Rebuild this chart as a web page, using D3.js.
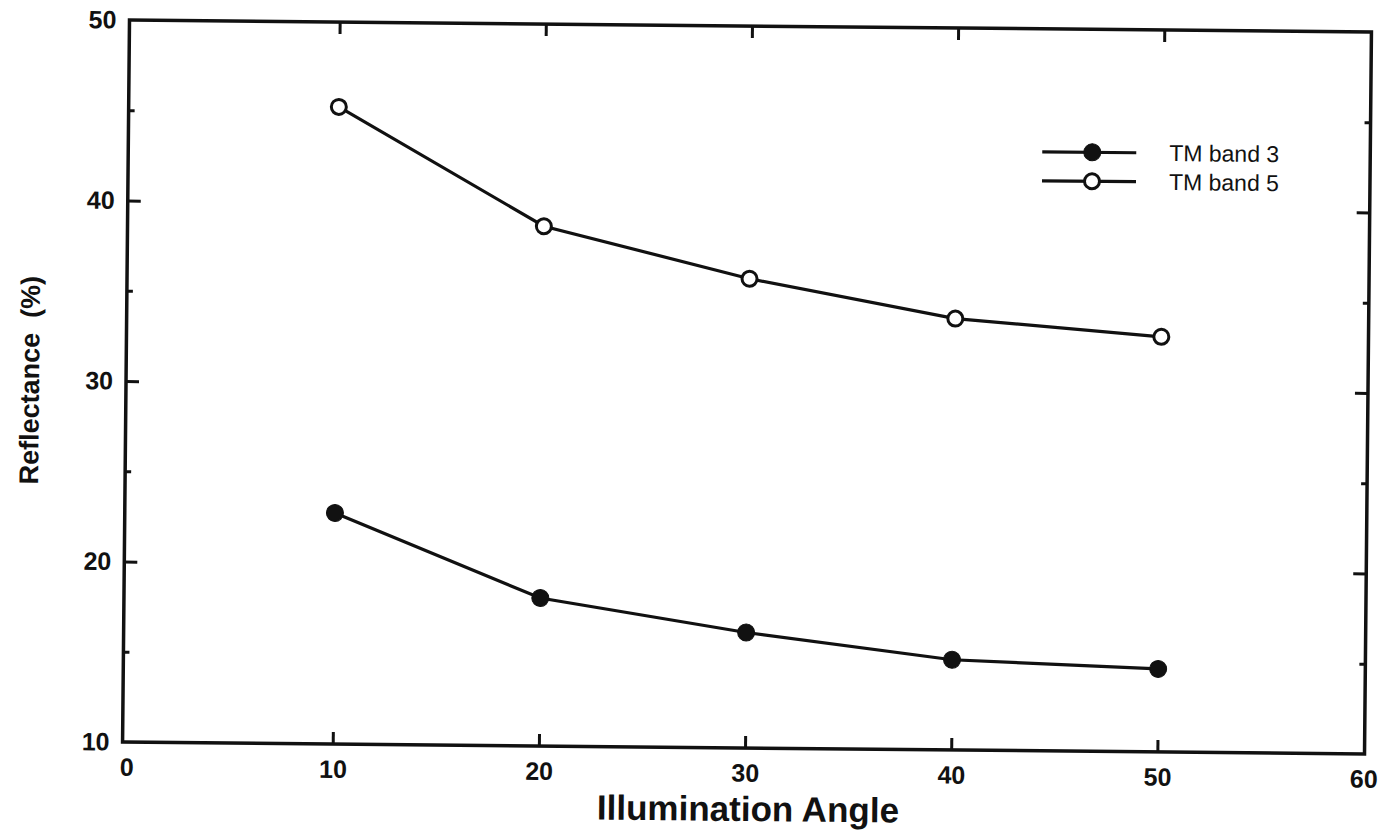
<!DOCTYPE html>
<html>
<head>
<meta charset="utf-8">
<script src="https://cdn.jsdelivr.net/npm/d3@7"></script>
<style>
  body { margin: 0; background: #fff; }
  svg { display: block; }
  .tick line { stroke: #111; stroke-width: 3; }
</style>
</head>
<body>
<div id="chart"></div>
<script>
const angles = [10, 20, 30, 40, 50];
const band3 = [22.8, 18.2, 16.4, 15.0, 14.6];
const band5 = [45.3, 38.8, 36.0, 33.9, 33.0];
const xTicks = [0, 10, 20, 30, 40, 50, 60];
const yTicks = [10, 20, 30, 40, 50];
const yMinor = [15, 25, 35, 45];
const seriesNames = ["TM band 3", "TM band 5"];

const width = 1378;
const height = 833;
const margin = { top: 26, left: 126 };
const plotW = 1242;
const plotH = 722;
const font = "'Liberation Sans', Arial, sans-serif";

const svg = d3.select("#chart")
    .append("svg")
    .attr("width", width)
    .attr("height", height);

// the scan is slightly tilted
const g = svg.append("g")
    .attr("transform", "rotate(0.55, 747, 387)");

const x = d3.scaleLinear().domain([0, 60]).range([130, 1367]);
const y = d3.scaleLinear().domain([10, 50]).range([margin.top + plotH, margin.top]);

// ticks on all four sides, pointing inward
g.append("g")
    .attr("transform", `translate(0,${margin.top + plotH})`)
    .call(d3.axisBottom(x).tickValues(xTicks).tickSize(-12).tickPadding(16).tickFormat(d3.format("d")))
    .call(a => a.select(".domain").remove())
    .call(a => a.selectAll(".tick line").filter(d => d === 0 || d === 60).remove());

g.append("g")
    .attr("transform", `translate(0,${margin.top})`)
    .call(d3.axisTop(x).tickValues([10, 20, 30, 40, 50]).tickSize(-12).tickFormat(""))
    .call(a => a.select(".domain").remove());

g.append("g")
    .attr("transform", `translate(${margin.left},0)`)
    .call(d3.axisLeft(y).tickValues(yTicks).tickSize(-13).tickPadding(13).tickFormat(d3.format("d")))
    .call(a => a.select(".domain").remove())
    .call(a => a.selectAll(".tick line").filter(d => d === 10 || d === 50).remove());

g.append("g")
    .attr("transform", `translate(${margin.left},0)`)
    .call(d3.axisLeft(y).tickValues(yMinor).tickSize(-6).tickFormat(""))
    .call(a => a.select(".domain").remove());

g.append("g")
    .attr("transform", `translate(${margin.left + plotW},0)`)
    .call(d3.axisRight(y).tickValues([20, 30, 40]).tickSize(-13).tickFormat(""))
    .call(a => a.select(".domain").remove());

g.append("g")
    .attr("transform", `translate(${margin.left + plotW},0)`)
    .call(d3.axisRight(y).tickValues(yMinor).tickSize(-6).tickFormat(""))
    .call(a => a.select(".domain").remove());

g.selectAll(".tick text")
    .attr("fill", "#111")
    .style("font-family", font)
    .style("font-weight", "bold")
    .style("font-size", "25px");

g.append("rect")
    .attr("x", margin.left)
    .attr("y", margin.top)
    .attr("width", plotW)
    .attr("height", plotH)
    .attr("fill", "none")
    .attr("stroke", "#111")
    .attr("stroke-width", 3.5);

// axis titles
g.append("text")
    .attr("x", 752)
    .attr("y", 821)
    .attr("text-anchor", "middle")
    .style("font-family", font)
    .style("font-weight", "bold")
    .style("font-size", "35px")
    .attr("fill", "#111")
    .text("Illumination Angle");

g.append("text")
    .attr("transform", `translate(39,${y(30)}) rotate(-90)`)
    .attr("text-anchor", "middle")
    .style("font-family", font)
    .style("font-weight", "bold")
    .style("font-size", "27px")
    .style("white-space", "pre")
    .attr("fill", "#111")
    .text("Reflectance  (%)");

const line = d3.line()
    .x((d, i) => x(angles[i]))
    .y(d => y(d));

function drawSeries(values, filled) {
    g.append("path")
        .datum(values)
        .attr("d", line)
        .attr("fill", "none")
        .attr("stroke", "#111")
        .attr("stroke-width", 3.2);

    g.append("g")
        .selectAll("circle")
        .data(values)
        .enter()
        .append("circle")
        .attr("cx", (d, i) => x(angles[i]))
        .attr("cy", d => y(d))
        .attr("r", filled ? 8.5 : 7.5)
        .attr("fill", filled ? "#111" : "#fff")
        .attr("stroke", "#111")
        .attr("stroke-width", filled ? 1 : 3);
}

drawSeries(band5, false);
drawSeries(band3, true);

// legend
const legend = g.append("g").attr("transform", "translate(1040,149)");
seriesNames.forEach((name, i) => {
    const row = legend.append("g").attr("transform", `translate(0,${i * 29})`);
    row.append("line")
        .attr("x1", 0).attr("x2", 94)
        .attr("stroke", "#111").attr("stroke-width", 3.2);
    row.append("circle")
        .attr("cx", 50)
        .attr("r", i === 0 ? 8.5 : 7.5)
        .attr("fill", i === 0 ? "#111" : "#fff")
        .attr("stroke", "#111")
        .attr("stroke-width", i === 0 ? 1 : 3);
    row.append("text")
        .attr("x", 127)
        .attr("y", 8)
        .style("font-family", font)
        .style("font-size", "23px")
        .attr("fill", "#111")
        .text(name);
});
</script>
</body>
</html>
